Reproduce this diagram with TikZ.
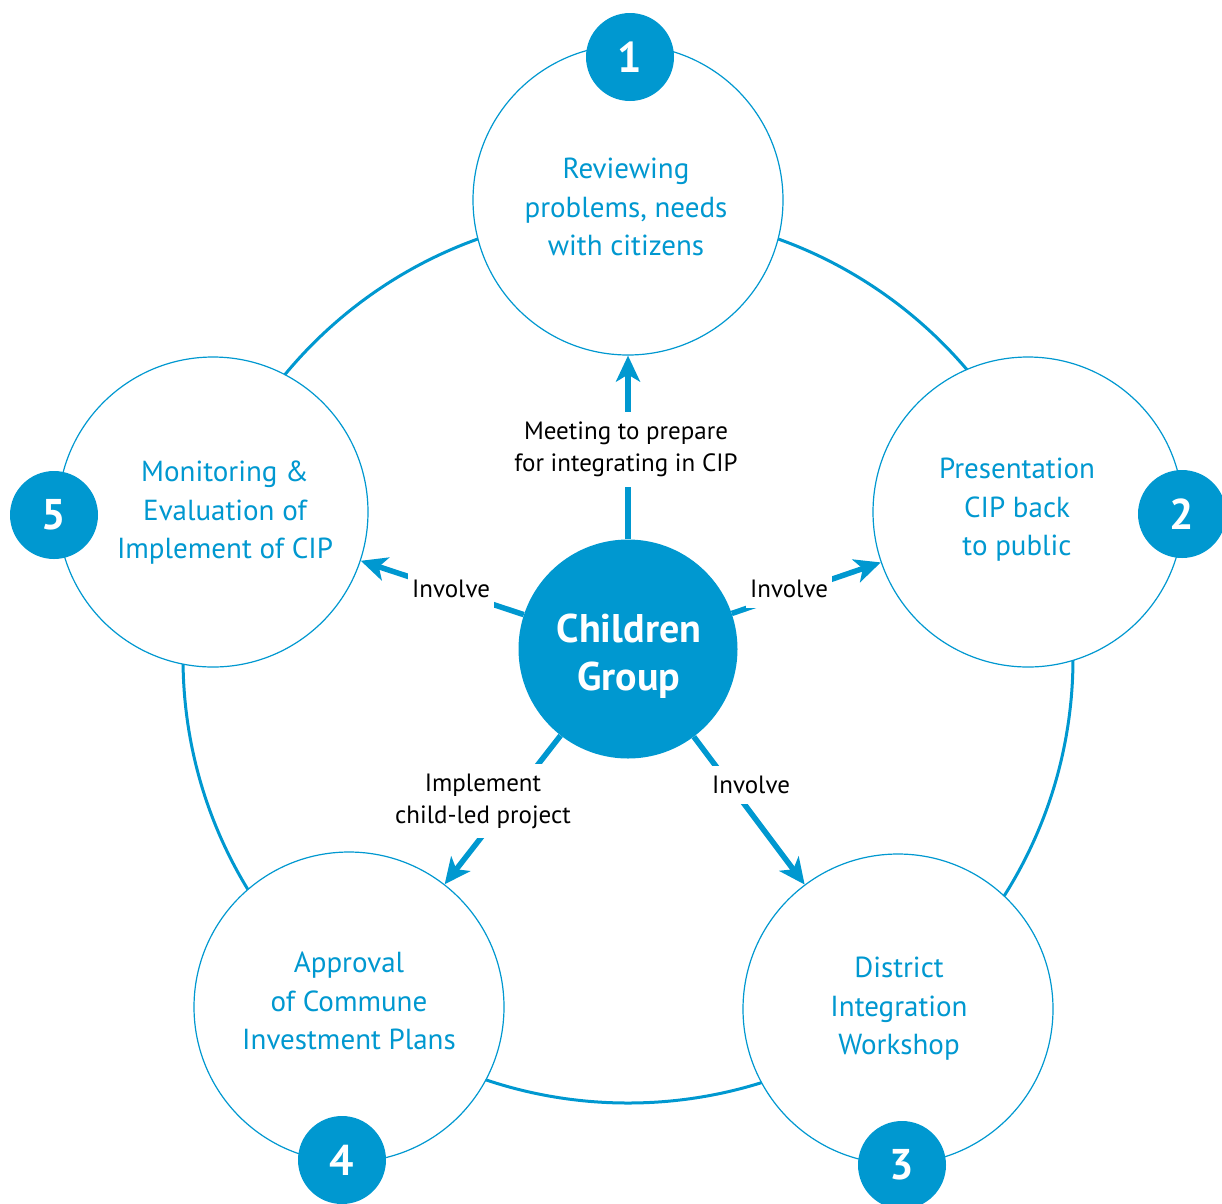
\documentclass[tikz,border=0pt]{standalone}
\usepackage{fontspec}
\setmainfont{PT Sans}
\usetikzlibrary{arrows.meta}
\definecolor{cipblue}{RGB}{0,152,208}
\begin{document}
\begin{tikzpicture}[x=1pt,y=-1pt,
  stage/.style={circle,draw=cipblue,line width=1.2pt,fill=white,minimum size=310pt,inner sep=0pt},
  stagetext/.style={text=cipblue,align=center,font=\fontsize{29}{38.5}\selectfont},
  numdot/.style={circle,fill=cipblue,minimum size=88pt,inner sep=0pt,text=white,font=\fontsize{43}{43}\selectfont\bfseries},
  hub/.style={circle,fill=cipblue,minimum size=219pt,inner sep=0pt},
  hubtext/.style={text=white,align=center,font=\fontsize{40}{48}\selectfont\bfseries},
  flow/.style={draw=cipblue,line width=5.5pt,-{Stealth[length=26pt,width=24pt,inset=7pt]}},
  lbl/.style={fill=white,align=center,text=black,font=\fontsize{25}{32}\selectfont,inner xsep=4pt,inner ysep=10pt}
]
\useasboundingbox (0,0) rectangle (1222,1203);
% ring
\draw[cipblue,line width=3pt] (628,658) circle[radius=445];
% stages
\node[stage] (c1) at (628,200) {};
\node[stage] (c2) at (1028,512) {};
\node[stage] (c3) at (898,1009) {};
\node[stage] (c4) at (349,1007) {};
\node[stage] (c5) at (213,512) {};
\node[stagetext] (t1) at (626,207) {Reviewing\\problems, needs\\with citizens};
\node[stagetext] (t2) at (1017,510) {Presentation\\CIP back\\to public};
\node[stagetext] (t3) at (899,1009) {District\\Integration\\Workshop};
\node[stagetext] (t4) at (349,1001) {Approval\\of Commune\\Investment Plans};
\node[stagetext] (t5) at (225,513) {Monitoring \&\\Evaluation of\\Implement of CIP};
% numbers
\node[numdot] (n1) at (630,57) {1};
\node[numdot] (n2) at (1182,514) {2};
\node[numdot] (n3) at (902,1165) {3};
\node[numdot] (n4) at (342,1160) {4};
\node[numdot] (n5) at (54,515) {5};
% hub
\node[hub] (cg) at (628,649) {};
\node[hubtext] (cgt) at (629,656) {Children\\Group};
% arrows
\draw[flow] (cg) -- (c1);
\draw[flow] (cg) -- (c2);
\draw[flow] (cg) -- (c3);
\draw[flow] (cg) -- (c4);
\draw[flow] (cg) -- (c5);
% labels
\node[lbl] (l1) at (626,449) {Meeting to prepare\\for integrating in CIP};
\node[lbl] (l2) at (789,589) {Involve};
\node[lbl] (l3) at (751,785) {Involve};
\node[lbl] (l4) at (483,801) {Implement\\child-led project};
\node[lbl] (l5) at (451,589) {Involve};
\end{tikzpicture}
\end{document}
